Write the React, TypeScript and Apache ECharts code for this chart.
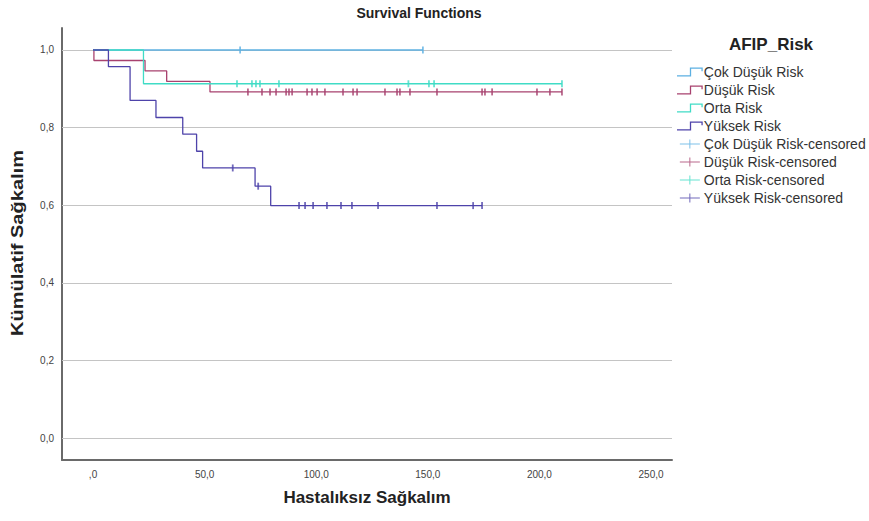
import React, { useEffect, useRef } from "react";
import * as echarts from "echarts";

// Kaplan-Meier step curves: event times and survival after each step
const cokDusukTimes = [0, 147.8];
const cokDusukSurv = [1.0, 1.0];
const cokDusukCensored = [65.9, 147.8];

const dusukTimes = [0, 0.4, 23.3, 33.0, 52.4, 210.1];
const dusukSurv = [1.0, 0.973, 0.946, 0.919, 0.892, 0.892];
const dusukCensored = [69.4, 75.7, 79.3, 82.0, 86.5, 87.8, 89.2, 95.9, 98.1, 100.4, 103.9, 112.0, 116.5, 118.3, 130.8, 136.2, 137.5, 142.0, 154.1, 174.3, 175.6, 178.8, 198.9, 204.7, 210.1];

const ortaTimes = [0, 22.6, 210.1];
const ortaSurv = [1.0, 0.913, 0.913];
const ortaCensored = [64.5, 71.2, 73.0, 74.8, 83.3, 141.3, 150.5, 152.8, 210.1];

const yuksekTimes = [0, 6.9, 16.6, 28.2, 40.2, 46.4, 49.1, 72.6, 79.6, 174.3];
const yuksekSurv = [1.0, 0.957, 0.870, 0.826, 0.783, 0.739, 0.696, 0.649, 0.599, 0.599];
const yuksekCensored = [62.6, 74.0, 92.3, 95.0, 98.6, 104.8, 111.1, 116.0, 127.7, 154.1, 170.3, 174.3];

const groupNames = ["Çok Düşük Risk", "Düşük Risk", "Orta Risk", "Yüksek Risk"];
const groupColors = ["#5cb0e2", "#a8426f", "#40dcc6", "#4e43aa"];
const yTicks = [0, 0.2, 0.4, 0.6, 0.8, 1.0];
const xTicks = [0, 50, 100, 150, 200, 250];

const FONT = "'Liberation Sans', Arial, sans-serif";

const stepIcon =
  "path://M0,7h11v1h-11z M10,1h1v7h-1z M10,1h10v1h-10z M19,1h1v3h-1z";
const crossIcon = "path://M0,4h20v1h-20z M9.5,0h1v9h-1z";

function survAt(times: number[], surv: number[], t: number): number {
  let v = surv[0];
  for (let i = 0; i < times.length; i++) {
    if (times[i] <= t) v = surv[i];
  }
  return v;
}

function fmtX(v: number): string {
  if (v === 0) return ",0";
  return v.toFixed(1).replace(".", ",");
}
function fmtY(v: number): string {
  return v.toFixed(1).replace(".", ",");
}

export default function App() {
  const ref = useRef<HTMLDivElement>(null);
  useEffect(() => {
    if (!ref.current) return;
    const chart = echarts.init(ref.current, null, { renderer: "svg" });
    const curves = [
      [cokDusukTimes, cokDusukSurv, cokDusukCensored],
      [dusukTimes, dusukSurv, dusukCensored],
      [ortaTimes, ortaSurv, ortaCensored],
      [yuksekTimes, yuksekSurv, yuksekCensored],
    ];
    const lineSeries: any[] = curves.map((c, i) => ({
      name: groupNames[i],
      type: "line",
      step: "end",
      showSymbol: false,
      symbol: "none",
      data: c[0].map((t: number, j: number) => [t, c[1][j]]),
      lineStyle: { color: groupColors[i], width: 1.3 },
      itemStyle: { color: groupColors[i] },
      z: 3,
    }));
    lineSeries[0].markLine = {
      silent: true,
      symbol: "none",
      label: { show: false },
      lineStyle: { color: "#c4c4c4", width: 1, type: "solid" },
      data: yTicks.map((v) => ({ yAxis: v })),
      z: 1,
    };
    const censSeries = curves.map((c, i) => ({
      name: groupNames[i] + "-censored",
      type: "scatter",
      symbol: "rect",
      symbolSize: [1.8, 7],
      data: c[2].map((t: number) => [t, survAt(c[0], c[1], t)]),
      itemStyle: { color: groupColors[i] },
      z: 4,
    }));
    const legendData = [
      ...groupNames.map((n) => ({ name: n, icon: stepIcon })),
      ...groupNames.map((n) => ({ name: n + "-censored", icon: crossIcon })),
    ];
    chart.setOption({
      animation: false,
      backgroundColor: "#ffffff",
      textStyle: { fontFamily: FONT },
      grid: { left: 62, right: 197, top: 28, bottom: 61 },
      graphic: [
        {
          type: "text",
          x: 419,
          y: 6,
          style: {
            text: "Survival Functions",
            font: "bold 14px " + FONT,
            fill: "#222",
            textAlign: "center",
          },
        },
        {
          type: "text",
          x: 771,
          y: 36,
          style: {
            text: "AFIP_Risk",
            font: "bold 17px " + FONT,
            fill: "#222",
            textAlign: "center",
          },
        },
        {
          type: "text",
          x: 17,
          y: 243,
          rotation: Math.PI / 2,
          scaleX: 1.18,
          style: {
            text: "Kümülatif Sağkalım",
            font: "bold 17px " + FONT,
            fill: "#222",
            textAlign: "center",
            textVerticalAlign: "middle",
          },
        },
      ],
      legend: {
        orient: "vertical",
        left: 672,
        top: 60,
        itemWidth: 26,
        itemHeight: 9,
        itemGap: 4,
        data: legendData,
        textStyle: { fontSize: 14, lineHeight: 14, color: "#333", fontFamily: FONT, padding: [0, 0, 0, -4] },
      },
      xAxis: {
        type: "value",
        min: -13.9,
        max: 259.4,
        name: "Hastalıksız Sağkalım",
        nameLocation: "middle",
        nameGap: 29,
        nameTextStyle: { fontSize: 17, fontWeight: "bold", color: "#222", fontFamily: FONT },
        axisLine: { show: true, onZero: false, lineStyle: { color: "#6a6a6a", width: 2 } },
        axisTick: { show: false, customValues: xTicks },
        splitLine: { show: false },
        axisLabel: {
          customValues: xTicks,
          formatter: (v: number) => fmtX(v),
          fontSize: 10,
          color: "#444",
          margin: 9,
        },
      },
      yAxis: {
        type: "value",
        min: -0.0567,
        max: 1.0567,
        axisLine: { show: true, onZero: false, lineStyle: { color: "#6a6a6a", width: 2 } },
        axisTick: { show: false, customValues: yTicks },
        splitLine: { show: false },
        axisLabel: {
          customValues: yTicks,
          formatter: (v: number) => fmtY(v),
          fontSize: 10,
          color: "#444",
          margin: 8,
        },
      },
      series: [...lineSeries, ...censSeries],
    });
    return () => chart.dispose();
  }, []);
  return (
    <div
      ref={ref}
      style={{ position: "absolute", left: 0, top: 0, width: 869, height: 521 }}
    />
  );
}
